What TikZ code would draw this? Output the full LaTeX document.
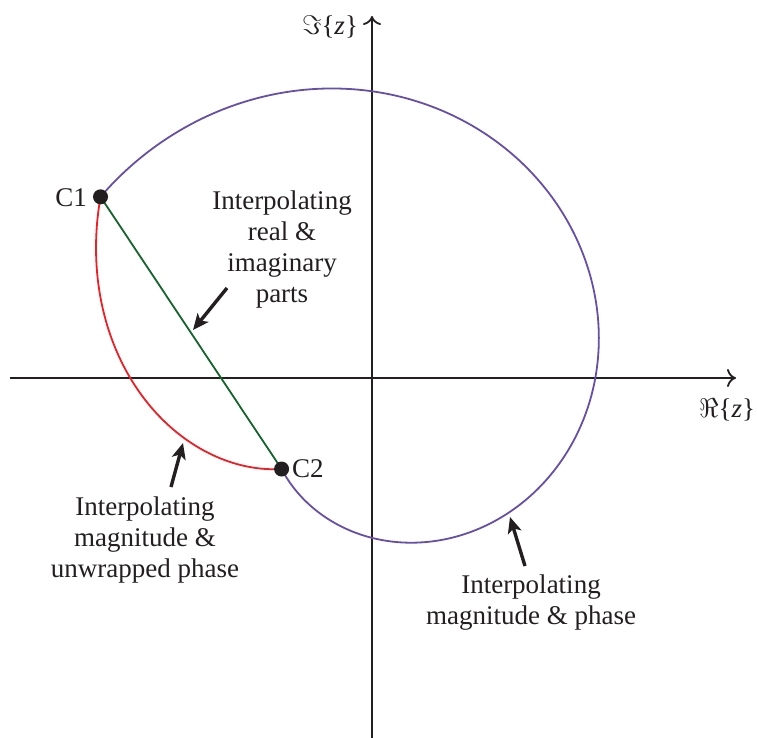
\RequirePackage{fix-cm}
\documentclass[tikz,border=0pt]{standalone}
\usepackage{fontspec}
\setmainfont{Liberation Serif}
\usetikzlibrary{arrows.meta}
\definecolor{magphase}{RGB}{103,78,167}
\definecolor{unwrap}{RGB}{237,30,36}
\definecolor{reim}{RGB}{20,100,45}
\definecolor{axisgray}{RGB}{35,31,32}
\tikzset{
  axisline/.style={draw=axisgray, line width=1.8pt, -{To[length=9pt,width=18pt,line width=1.8pt]}},
  curveline/.style={line width=1.8pt},
  pointer/.style={draw=axisgray, line width=3.4pt, -{Stealth[length=16pt,width=14pt,inset=4pt]}},
  dot/.style={circle, fill=axisgray, inner sep=0pt, minimum size=15pt},
  lbl/.style={font=\fontsize{27}{31}\selectfont, text=axisgray, inner sep=0pt},
  note/.style={lbl, align=center}
}
\begin{document}
\begin{tikzpicture}[x=1pt,y=1pt]
\useasboundingbox (-372,-360) rectangle (385,378);
% axes
\coordinate (O) at (0,0);
\coordinate (xs) at (-362,0);
\coordinate (xe) at (364,0);
\coordinate (ys) at (0,-362);
\coordinate (ye) at (0,362);
\draw[axisline] (xs) -- (xe);
\draw[axisline] (ys) -- (ye);
\node[lbl] (imlab) at (-42,351) {$\Im$\{\textit{z}\}};
\node[lbl] (relab) at (355,-32) {$\Re$\{\textit{z}\}};
% points
\coordinate (P1) at (146.28:326.4);
\coordinate (P2) at (225.19:128.3);
% curves
\draw[curveline, magphase] plot[domain=0:1, samples=300, variable=\t] ({146.28-281.09*\t}:{326.4-198.1*\t});
\draw[curveline, unwrap] plot[domain=0:1, samples=150, variable=\t] ({146.28+78.91*\t}:{326.4-198.1*\t});
\draw[curveline, reim] (P1) -- (P2);
\node[dot] (C1) at (P1) {};
\node[dot] (C2) at (P2) {};
\node[lbl, anchor=east] (C1lab) at (-285,180) {C1};
\node[lbl, anchor=west] (C2lab) at (-80,-91) {C2};
% notes
\node[note] (n1) at (-90,128) {Interpolating\\real \&\\imaginary\\parts};
\node[note] (n2) at (-227,-162) {Interpolating\\magnitude \&\\unwrapped phase};
\node[note] (n3) at (159,-225) {Interpolating\\magnitude \& phase};
% pointers
\coordinate (a1s) at (-145,90);
\coordinate (a1e) at (-179,48);
\coordinate (a2s) at (-201,-109);
\coordinate (a2e) at (-189,-65);
\coordinate (a3s) at (153,-188);
\coordinate (a3e) at (138,-139);
\draw[pointer] (a1s) -- (a1e);
\draw[pointer] (a2s) -- (a2e);
\draw[pointer] (a3s) -- (a3e);
\end{tikzpicture}
\end{document}
